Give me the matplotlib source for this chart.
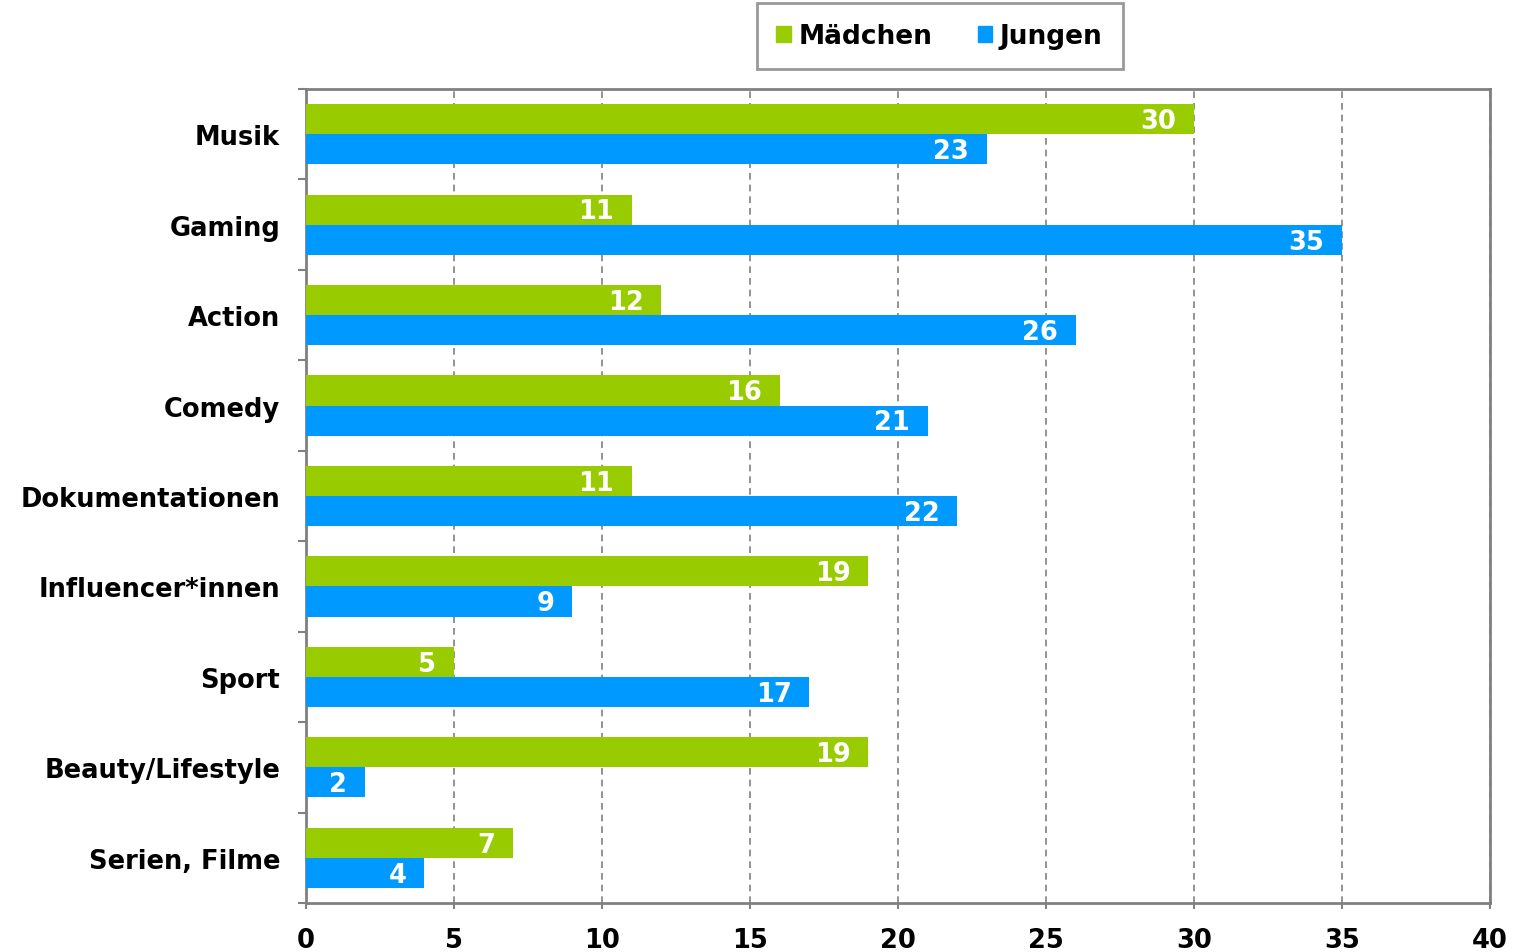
import numpy as np
import matplotlib.pyplot as plt
from matplotlib.patches import Patch

categories = ['Musik', 'Gaming', 'Action', 'Comedy', 'Dokumentationen',
              'Influencer*innen', 'Sport', 'Beauty/Lifestyle', 'Serien, Filme']
maedchen = [30, 11, 12, 16, 11, 19, 5, 19, 7]
jungen = [23, 35, 26, 21, 22, 9, 17, 2, 4]
xticks = [0, 5, 10, 15, 20, 25, 30, 35, 40]

green = '#99CC00'
blue = '#0099FF'
gray = '#808080'

plt.rcParams['font.family'] = ['DejaVu Sans']
plt.rcParams['font.weight'] = 'bold'

fig = plt.figure(figsize=(15.13, 9.53), dpi=100)
ax = fig.add_axes([0.2022, 0.0514, 0.7826, 0.8542])

n = len(categories)
pos = np.arange(n)
h = 0.333
ax.barh(pos - h / 2, maedchen, height=h, color=green, label='Mädchen', zorder=3)
ax.barh(pos + h / 2, jungen, height=h, color=blue, label='Jungen', zorder=3)

fs = 18.5
for i in range(n):
    ax.text(maedchen[i] - 0.6, pos[i] - h / 2 + 0.02, str(maedchen[i]), color='white',
            ha='right', va='center', fontsize=fs, fontweight='bold', zorder=4)
    ax.text(jungen[i] - 0.6, pos[i] + h / 2 + 0.02, str(jungen[i]), color='white',
            ha='right', va='center', fontsize=fs, fontweight='bold', zorder=4)

ax.set_xlim(0, 40)
ax.set_ylim(n - 0.5, -0.5)
ax.set_xticks(xticks)
ax.set_xticklabels([str(t) for t in xticks], fontsize=fs, fontweight='bold')
ax.tick_params(axis='x', length=4.5, color=gray, width=1.5, pad=13)

# category labels centred, ticks at the boundaries
ax.set_yticks(pos)
ax.set_yticklabels(categories, fontsize=fs, fontweight='bold')
ax.tick_params(axis='y', which='major', length=0, pad=18.5)
ax.set_yticks(np.arange(n + 1) - 0.5, minor=True)
ax.tick_params(axis='y', which='minor', length=5.5, color=gray, width=1.5)

ax.grid(axis='x', color=gray, linestyle=(0, (4, 3)), linewidth=1.2, zorder=0)
for s in ax.spines.values():
    s.set_color(gray)
    s.set_linewidth(2)

handles = [Patch(color=green, label='Mädchen'), Patch(color=blue, label='Jungen')]
leg = fig.legend(handles=handles, loc='center', bbox_to_anchor=(0.621, 0.961),
                 ncol=2, frameon=True, fancybox=False,
                 handlelength=0.55, handleheight=0.55, handletextpad=0.3,
                 columnspacing=1.7, borderpad=0.75, borderaxespad=0,
                 prop={'weight': 'bold', 'size': 19})
leg.get_frame().set_edgecolor(gray)
leg.get_frame().set_linewidth(2)

fig.savefig('out.png', dpi=100)
